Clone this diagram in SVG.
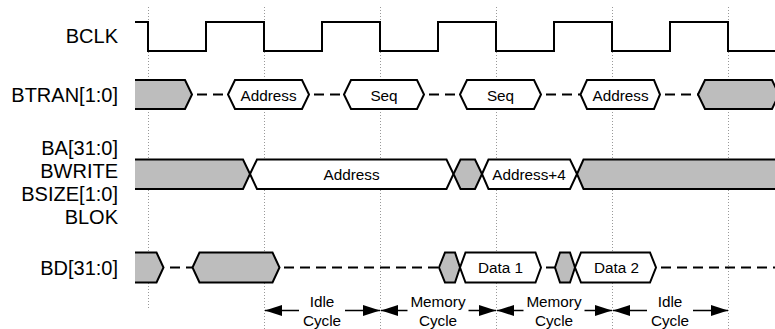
<svg xmlns="http://www.w3.org/2000/svg" width="775" height="329" viewBox="0 0 775 329">
<style>
.lbl{font-family:"Liberation Sans",Arial,sans-serif;font-size:20px;fill:#000;text-anchor:end}
.in{font-family:"Liberation Sans",Arial,sans-serif;font-size:15.3px;fill:#000;text-anchor:middle}
.grid{stroke:#999;stroke-width:1;stroke-dasharray:1 2;fill:none}
.w{fill:none;stroke:#000;stroke-width:2;stroke-linejoin:miter}
.g{fill:#bdbdbd;stroke:#000;stroke-width:2}
.gf{fill:#bdbdbd;stroke:none}
.wh{fill:#fff;stroke:#000;stroke-width:2}
.d{stroke:#000;stroke-width:2;stroke-dasharray:10 6;fill:none}
.ar{stroke:#000;stroke-width:1.5;fill:none}
</style>
<defs>
<marker id="m" viewBox="0 0 17 11" refX="17" refY="5.5" markerWidth="17" markerHeight="11" markerUnits="userSpaceOnUse" orient="auto">
<path d="M0,0 L17,5.5 L0,11 Z" fill="#000"/>
</marker>
</defs>

<g id="grid">
<line class="grid" x1="148.5" y1="7" x2="148.5" y2="310"/>
<line class="grid" x1="264.5" y1="7" x2="264.5" y2="329"/>
<line class="grid" x1="380.5" y1="7" x2="380.5" y2="329"/>
<line class="grid" x1="496.5" y1="7" x2="496.5" y2="329"/>
<line class="grid" x1="612.5" y1="7" x2="612.5" y2="329"/>
<line class="grid" x1="728.5" y1="7" x2="728.5" y2="329"/>
</g>

<g id="labels">
<text class="lbl" x="118" y="43">BCLK</text>
<text class="lbl" x="118" y="101.5">BTRAN[1:0]</text>
<text class="lbl" x="118" y="154.5">BA[31:0]</text>
<text class="lbl" x="118" y="177.5">BWRITE</text>
<text class="lbl" x="118" y="200.5">BSIZE[1:0]</text>
<text class="lbl" x="118" y="223.5">BLOK</text>
<text class="lbl" x="118" y="275">BD[31:0]</text>
</g>

<g id="bclk">
<path class="w" d="M135,22 H148 V51 H206 V22 H264 V51 H322 V22 H380 V51 H438 V22 H496 V51 H554 V22 H612 V51 H670 V22 H728 V51 H775"/>
</g>

<g id="btran">
<polygon class="gf" points="135,80 185,80 192,94.5 185,109 135,109"/>
<polyline class="w" points="135,80 185,80 192,94.5 185,109 135,109"/>
<polygon class="wh" points="228,94.5 235,80 302,80 309,94.5 302,109 235,109"/>
<text class="in" x="268.5" y="100.5">Address</text>
<polygon class="wh" points="344,94.5 351,80 417,80 424,94.5 417,109 351,109"/>
<text class="in" x="384" y="100.5">Seq</text>
<polygon class="wh" points="460,94.5 467,80 534,80 541,94.5 534,109 467,109"/>
<text class="in" x="500.5" y="100.5">Seq</text>
<polygon class="wh" points="580.5,94.5 587,80 654,80 660,94.5 654,109 587,109"/>
<text class="in" x="620.5" y="100.5">Address</text>
<polygon class="g" points="698,94.5 705,80 772,80 779,94.5 772,109 705,109"/>
</g>

<g id="ba">
<polygon class="gf" points="135,159.5 243,159.5 250,174 243,189 135,189"/>
<polyline class="w" points="135,159.5 243,159.5 250,174 243,189 135,189"/>
<polygon class="wh" points="250,174 257,159.5 446.5,159.5 453.5,174 446.5,189 257,189"/>
<text class="in" x="351.5" y="179.5">Address</text>
<polygon class="g" points="453.5,174 460.5,159.5 475,159.5 482,174 475,189 460.5,189"/>
<polygon class="wh" points="482,174 488.5,159.5 570,159.5 577,174 570,189 488.5,189"/>
<text class="in" x="529" y="179.5">Address+4</text>
<polygon class="gf" points="577,174 583.5,159.5 775,159.5 775,189 583.5,189"/>
<polyline class="w" points="776,159.5 583.5,159.5 577,174 583.5,189 776,189"/>
</g>

<g id="bd">
<polygon class="gf" points="135,252.5 156.5,252.5 163.5,267.5 156.5,282.5 135,282.5"/>
<polyline class="w" points="135,252.5 156.5,252.5 163.5,267.5 156.5,282.5 135,282.5"/>
<polygon class="g" points="192.5,267.5 199.5,252.5 272.5,252.5 279.5,267.5 272.5,282.5 199.5,282.5"/>
<polygon class="g" points="439,267.5 445,252.5 455,252.5 460,267.5 455,282.5 445,282.5"/>
<polygon class="wh" points="460,267.5 465.5,252.5 535.5,252.5 541,267.5 535.5,282.5 465.5,282.5"/>
<text class="in" x="500.5" y="273">Data 1</text>
<polygon class="g" points="555,267.5 560,252.5 570,252.5 575,267.5 570,282.5 560,282.5"/>
<polygon class="wh" points="575,267.5 581,252.5 650,252.5 656,267.5 650,282.5 581,282.5"/>
<text class="in" x="616.5" y="273">Data 2</text>
</g>

<g id="connectors">
<line class="d" x1="194" y1="94.5" x2="228" y2="94.5" stroke-dashoffset="-3"/>
<line class="d" x1="311" y1="94.5" x2="344" y2="94.5" stroke-dashoffset="-3"/>
<line class="d" x1="426" y1="94.5" x2="460" y2="94.5" stroke-dashoffset="-3"/>
<line class="d" x1="543" y1="94.5" x2="580" y2="94.5" stroke-dashoffset="-3"/>
<line class="d" x1="662" y1="94.5" x2="698" y2="94.5" stroke-dashoffset="-3"/>
<line class="d" x1="165" y1="267.5" x2="192.5" y2="267.5" stroke-dasharray="7 10" stroke-dashoffset="-5"/>
<line class="d" x1="281" y1="267.5" x2="439" y2="267.5" stroke-dashoffset="-3"/>
<line class="d" x1="542" y1="267.5" x2="555" y2="267.5" stroke-dasharray="8 3" stroke-dashoffset="-4"/>
<line class="d" x1="658" y1="267.5" x2="775" y2="267.5" stroke-dashoffset="-3"/>
</g>

<g id="cycles">
<line class="ar" x1="299" y1="310.5" x2="265" y2="310.5" marker-end="url(#m)"/>
<line class="ar" x1="345" y1="310.5" x2="380" y2="310.5" marker-end="url(#m)"/>
<text class="in" x="322" y="307">Idle</text>
<text class="in" x="322" y="326">Cycle</text>
<line class="ar" x1="407.5" y1="310.5" x2="381" y2="310.5" marker-end="url(#m)"/>
<line class="ar" x1="468.5" y1="310.5" x2="496" y2="310.5" marker-end="url(#m)"/>
<text class="in" x="438" y="307">Memory</text>
<text class="in" x="438" y="326">Cycle</text>
<line class="ar" x1="523.5" y1="310.5" x2="497" y2="310.5" marker-end="url(#m)"/>
<line class="ar" x1="584.5" y1="310.5" x2="612" y2="310.5" marker-end="url(#m)"/>
<text class="in" x="554" y="307">Memory</text>
<text class="in" x="554" y="326">Cycle</text>
<line class="ar" x1="647" y1="310.5" x2="613" y2="310.5" marker-end="url(#m)"/>
<line class="ar" x1="693" y1="310.5" x2="728" y2="310.5" marker-end="url(#m)"/>
<text class="in" x="670" y="307">Idle</text>
<text class="in" x="670" y="326">Cycle</text>
</g>
</svg>
